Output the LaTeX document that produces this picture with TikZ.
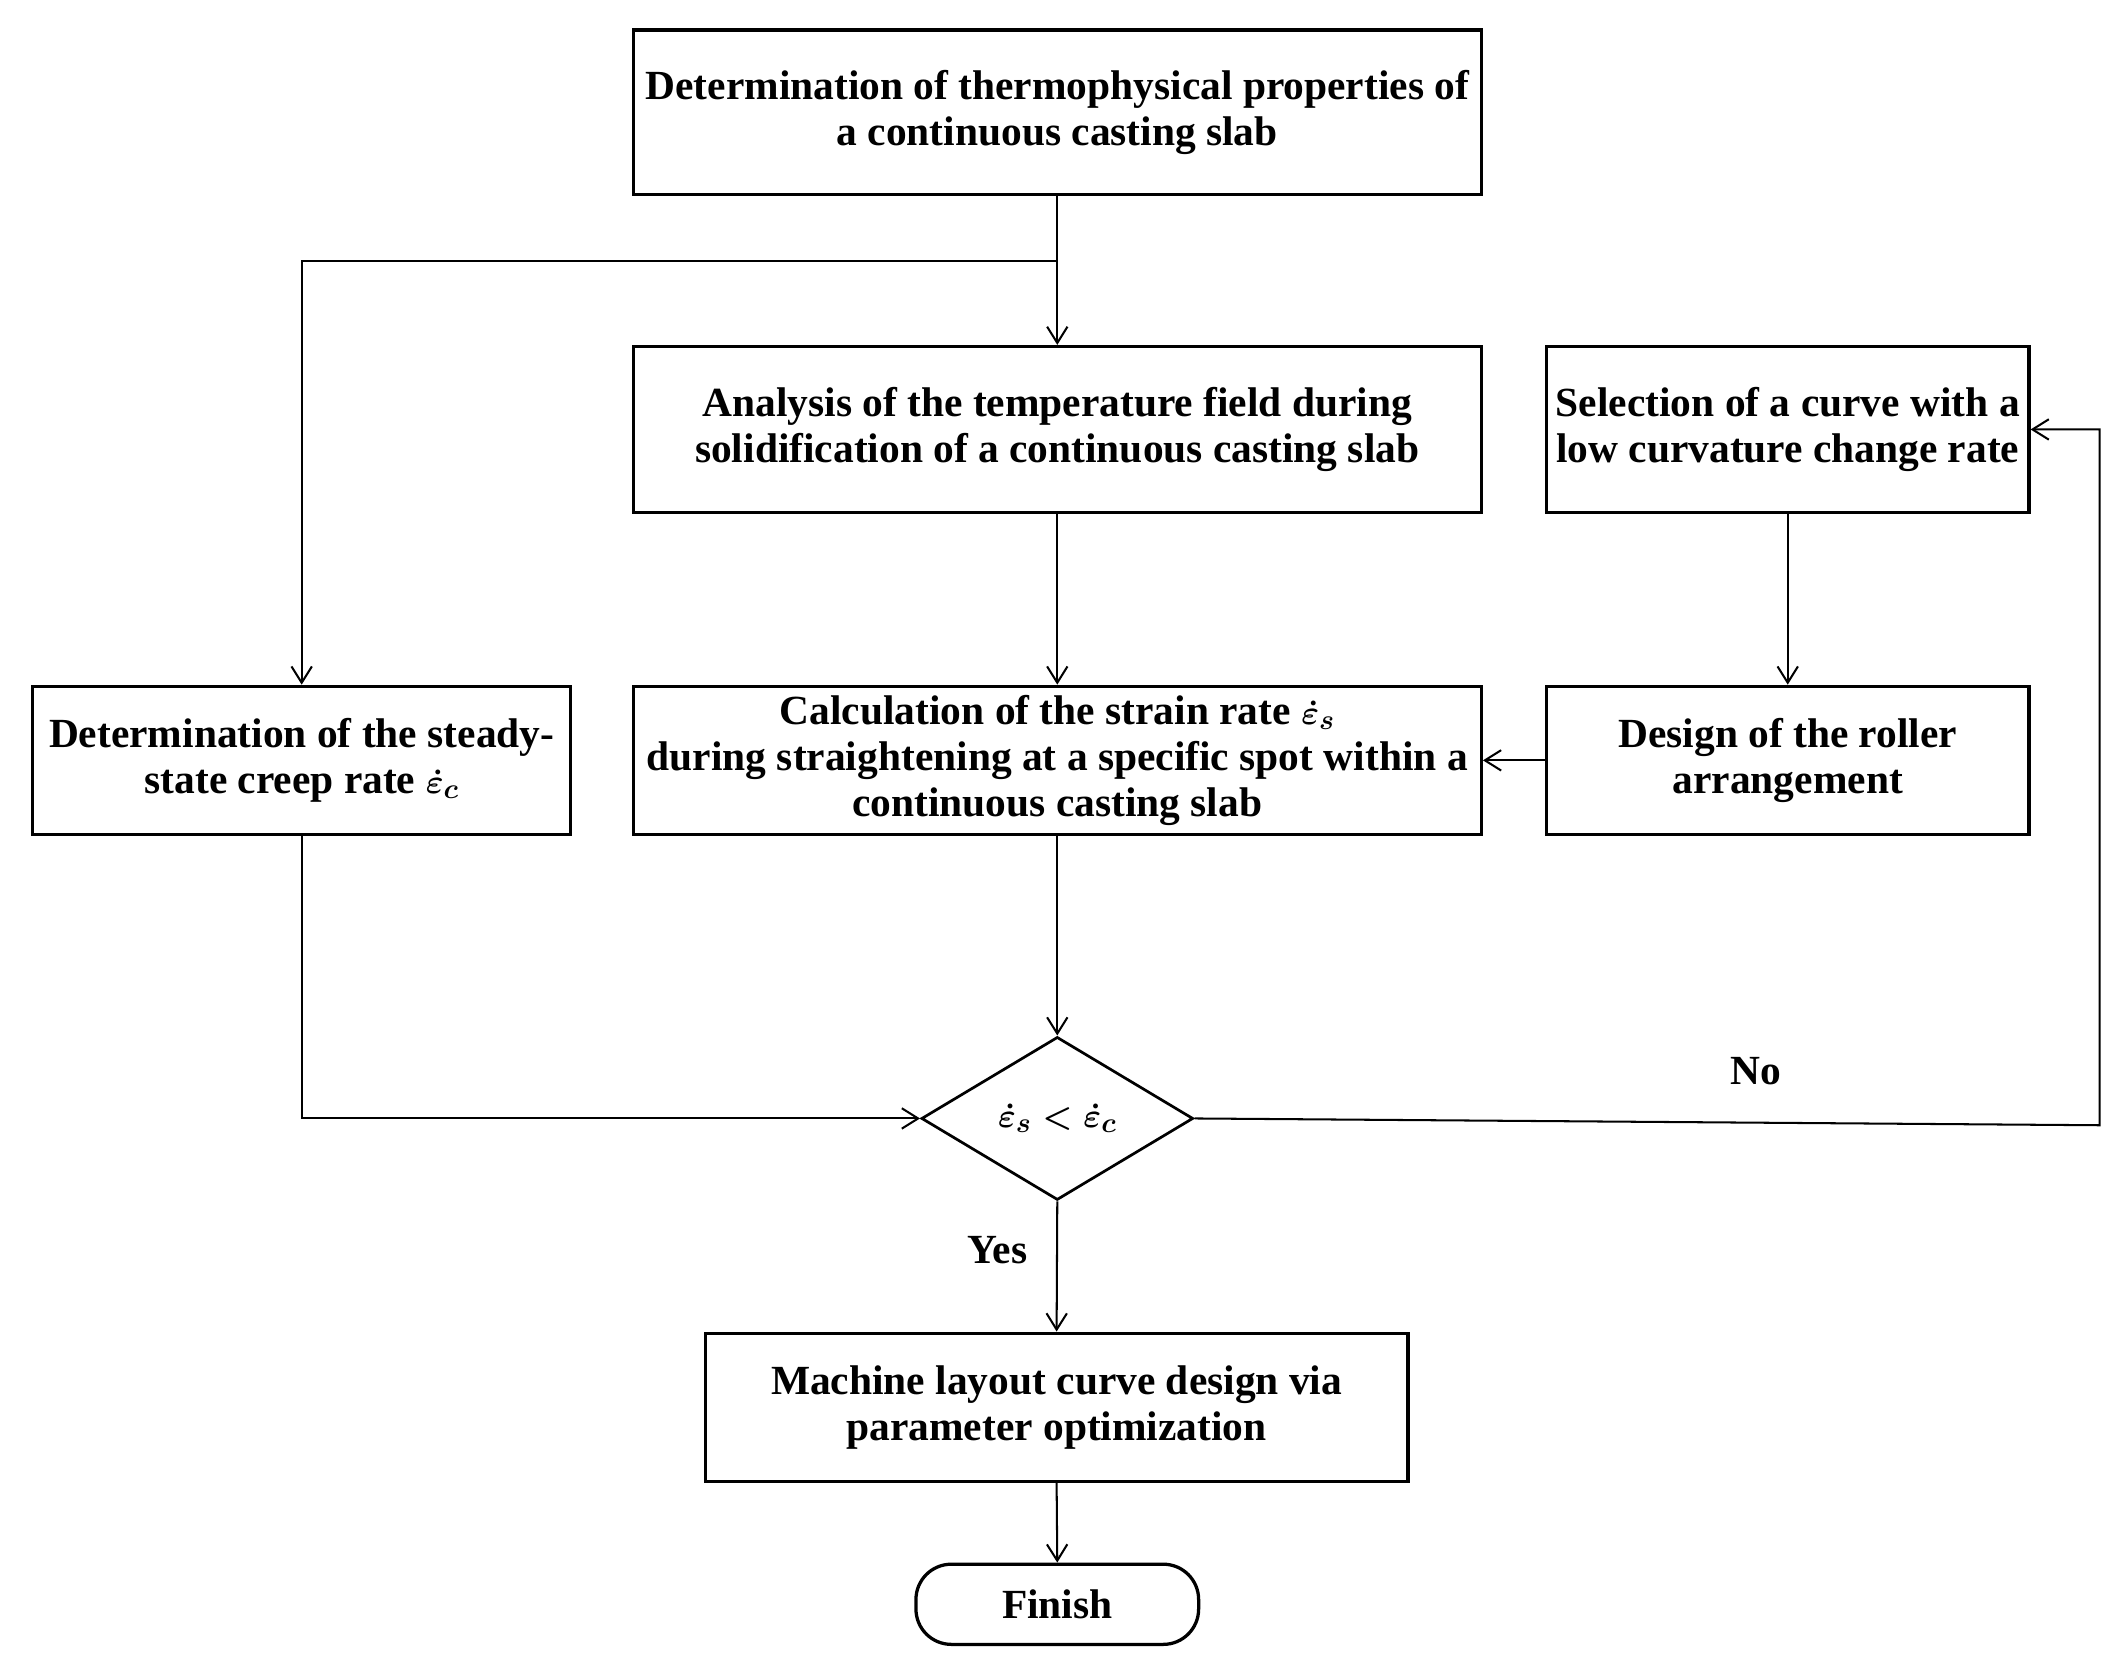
\documentclass[tikz,border=0pt]{standalone}
\usepackage{fontspec}
\setmainfont{Liberation Serif}
\usetikzlibrary{arrows.meta,shapes.geometric}
\begin{document}
\begin{tikzpicture}[x=1pt,y=-1pt,
  txt/.style={font={\fontsize{30.5}{34}\selectfont\bfseries\boldmath}, align=center, inner sep=0pt},
  box/.style={txt, draw, line width=2.4pt, rectangle},
  conn/.style={line width=1.5pt},
  arr/.style={conn, -{Straight Barb[length=12pt,width=15pt]}},
  dec/.style={txt, draw, line width=2pt, diamond, aspect=1.667, minimum width=200pt, minimum height=120pt},
  term/.style={txt, draw, line width=2.4pt, rounded corners=26pt}
]
\useasboundingbox (0,0) rectangle (1560,1218.6);
\node[box, minimum width=624pt, minimum height=121pt] (top) at (778,82.5)
  {Determination of thermophysical properties of\\a continuous casting slab};
\node[box, minimum width=624pt, minimum height=122pt] (ana) at (778,316)
  {Analysis of the temperature field during\\solidification of a continuous casting slab};
\node[box, minimum width=355pt, minimum height=122pt] (sel) at (1315.5,316)
  {Selection of a curve with a\\low curvature change rate};
\node[box, minimum width=396pt, minimum height=109pt] (lft) at (222,559.5)
  {Determination of the steady-\\state creep rate $\dot{\varepsilon}_c$};
\node[box, minimum width=624pt, minimum height=109pt] (calc) at (778,559.5)
  {Calculation of the strain rate $\dot{\varepsilon}_s$\\during straightening at a specific spot within a\\continuous casting slab};
\node[box, minimum width=355pt, minimum height=109pt] (des) at (1315.5,559.5)
  {Design of the roller\\arrangement};
\node[dec] (dc) at (778,823) {$\dot{\varepsilon}_s < \dot{\varepsilon}_c$};
\node[box, minimum width=517pt, minimum height=109pt] (mach) at (777.5,1035.5)
  {Machine layout curve design via\\parameter optimization};
\node[term, minimum width=208pt, minimum height=59pt] (fin) at (778,1180.5) {Finish};
\node[txt] (no) at (1292,788) {No};
\node[txt] (yes) at (734,920) {Yes};
\coordinate (j) at (778,192);
\coordinate (br) at (222,192);
\coordinate (nr) at (1545,828);
\coordinate (nt) at (1545,316);
\draw[arr] (top.south) -- (ana.north);
\draw[arr] (j) -- (br) -- (lft.north);
\draw[arr] (ana.south) -- (calc.north);
\draw[arr] (sel.south) -- (des.north);
\draw[arr] (des.west) -- (calc.east);
\draw[arr] (calc.south) -- (dc.north);
\draw[arr] (lft.south) |- (dc.west);
\draw[arr] (dc.east) -- (nr) -- (nt) -- (sel.east);
\draw[arr] (dc.south) -- (mach.north);
\draw[arr] (mach.south) -- (fin.north);
\end{tikzpicture}
\end{document}
